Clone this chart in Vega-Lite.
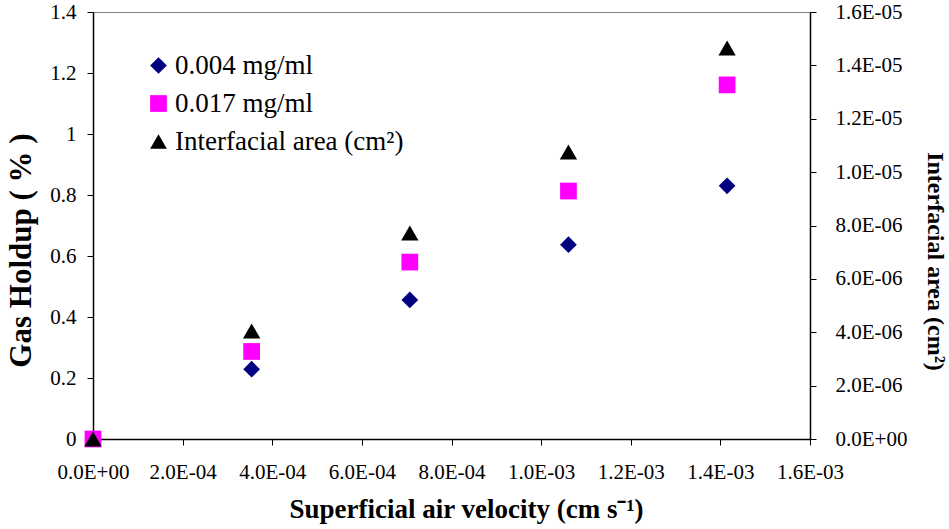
{
  "$schema": "https://vega.github.io/schema/vega-lite/v6.json",
  "width": 717,
  "height": 427,
  "autosize": {"type": "none"},
  "padding": {"left": 93, "top": 12, "right": 139, "bottom": 90},
  "background": "white",
  "config": {
    "view": {"stroke": "#808080", "strokeWidth": 1},
    "font": "Liberation Serif",
    "axis": {
      "labelFont": "Liberation Serif",
      "labelFontSize": 21,
      "labelColor": "black",
      "labelFlush": false,
      "labelOverlap": false,
      "titleFont": "Liberation Serif",
      "titleFontWeight": "bold",
      "titleColor": "black",
      "domainColor": "black",
      "domainWidth": 1.5,
      "tickColor": "black",
      "tickSize": 6,
      "grid": false
    }
  },
  "datasets": {
    "holdup": [
      {"velocity": 0, "value": 0, "series": "0.004 mg/ml"},
      {"velocity": 0.000354, "value": 0.229, "series": "0.004 mg/ml"},
      {"velocity": 0.000707, "value": 0.456, "series": "0.004 mg/ml"},
      {"velocity": 0.001061, "value": 0.637, "series": "0.004 mg/ml"},
      {"velocity": 0.001415, "value": 0.830, "series": "0.004 mg/ml"},
      {"velocity": 0, "value": 0, "series": "0.017 mg/ml"},
      {"velocity": 0.000354, "value": 0.287, "series": "0.017 mg/ml"},
      {"velocity": 0.000707, "value": 0.580, "series": "0.017 mg/ml"},
      {"velocity": 0.001061, "value": 0.813, "series": "0.017 mg/ml"},
      {"velocity": 0.001415, "value": 1.161, "series": "0.017 mg/ml"}
    ],
    "area": [
      {"velocity": 0, "area": 0, "series": "Interfacial area (cm²)"},
      {"velocity": 0.000354, "area": 0.00000405, "series": "Interfacial area (cm²)"},
      {"velocity": 0.000707, "area": 0.00000772, "series": "Interfacial area (cm²)"},
      {"velocity": 0.001061, "area": 0.00001075, "series": "Interfacial area (cm²)"},
      {"velocity": 0.001415, "area": 0.00001465, "series": "Interfacial area (cm²)"}
    ]
  },
  "encoding": {
    "x": {
      "field": "velocity",
      "type": "quantitative",
      "scale": {"domain": [0, 0.0016], "nice": false, "zero": true},
      "axis": {
        "title": "Superficial air velocity (cm s⁻¹)",
        "titleFontSize": 27,
        "titleX": 373,
        "values": [0, 0.0002, 0.0004, 0.0006, 0.0008, 0.001, 0.0012, 0.0014, 0.0016],
        "labelExpr": "replace(replace(format(datum.value, '.1e'), 'e-', 'E-0'), 'e+', 'E+0')",
        "labelPadding": 16,
        "titlePadding": 14
      }
    }
  },
  "layer": [
    {
      "data": {"name": "holdup"},
      "mark": {"type": "point", "filled": true, "opacity": 1, "size": 280},
      "encoding": {
        "y": {
          "field": "value",
          "type": "quantitative",
          "scale": {"domain": [0, 1.4], "nice": false},
          "axis": {
            "title": "Gas Holdup ( % )",
            "titleFontSize": 31,
            "titleY": 238,
            "values": [0, 0.2, 0.4, 0.6, 0.8, 1, 1.2, 1.4],
            "format": "~g",
            "orient": "left",
            "labelPadding": 11,
            "titlePadding": 12
          }
        },
        "color": {
          "field": "series",
          "type": "nominal",
          "scale": {
            "domain": ["0.004 mg/ml", "0.017 mg/ml", "Interfacial area (cm²)"],
            "range": ["#000080", "#FF00FF", "#000000"]
          },
          "legend": {
            "title": null,
            "orient": "none",
            "legendX": 52,
            "legendY": 40,
            "padding": 0,
            "labelFont": "Liberation Serif",
            "labelFontSize": 27,
            "labelColor": "black",
            "labelOffset": 3,
            "symbolSize": 280,
            "symbolStrokeWidth": 0,
            "rowPadding": 10,
            "labelLimit": 400
          }
        },
        "shape": {
          "field": "series",
          "type": "nominal",
          "scale": {
            "domain": ["0.004 mg/ml", "0.017 mg/ml", "Interfacial area (cm²)"],
            "range": ["diamond", "square", "triangle-up"]
          },
          "legend": {
            "title": null,
            "orient": "none",
            "legendX": 52,
            "legendY": 40,
            "padding": 0,
            "labelFont": "Liberation Serif",
            "labelFontSize": 27,
            "labelColor": "black",
            "labelOffset": 3,
            "symbolSize": 280,
            "symbolStrokeWidth": 0,
            "rowPadding": 10,
            "labelLimit": 400
          }
        }
      }
    },
    {
      "data": {"name": "area"},
      "mark": {"type": "point", "filled": true, "opacity": 1, "size": 300},
      "encoding": {
        "y": {
          "field": "area",
          "type": "quantitative",
          "scale": {"domain": [0, 0.000016], "nice": false},
          "axis": {
            "title": "Interfacial area (cm²)",
            "titleFontSize": 24,
            "titleY": 249,
            "orient": "right",
            "values": [0, 0.000002, 0.000004, 0.000006, 0.000008, 0.00001, 0.000012, 0.000014, 0.000016],
            "labelExpr": "replace(replace(format(datum.value, '.1e'), 'e-', 'E-0'), 'e+', 'E+0')",
            "labelPadding": 19,
            "titlePadding": 16
          }
        },
        "color": {"field": "series", "type": "nominal"},
        "shape": {"field": "series", "type": "nominal"}
      }
    }
  ],
  "resolve": {"scale": {"y": "independent", "color": "shared", "shape": "shared"}}
}
